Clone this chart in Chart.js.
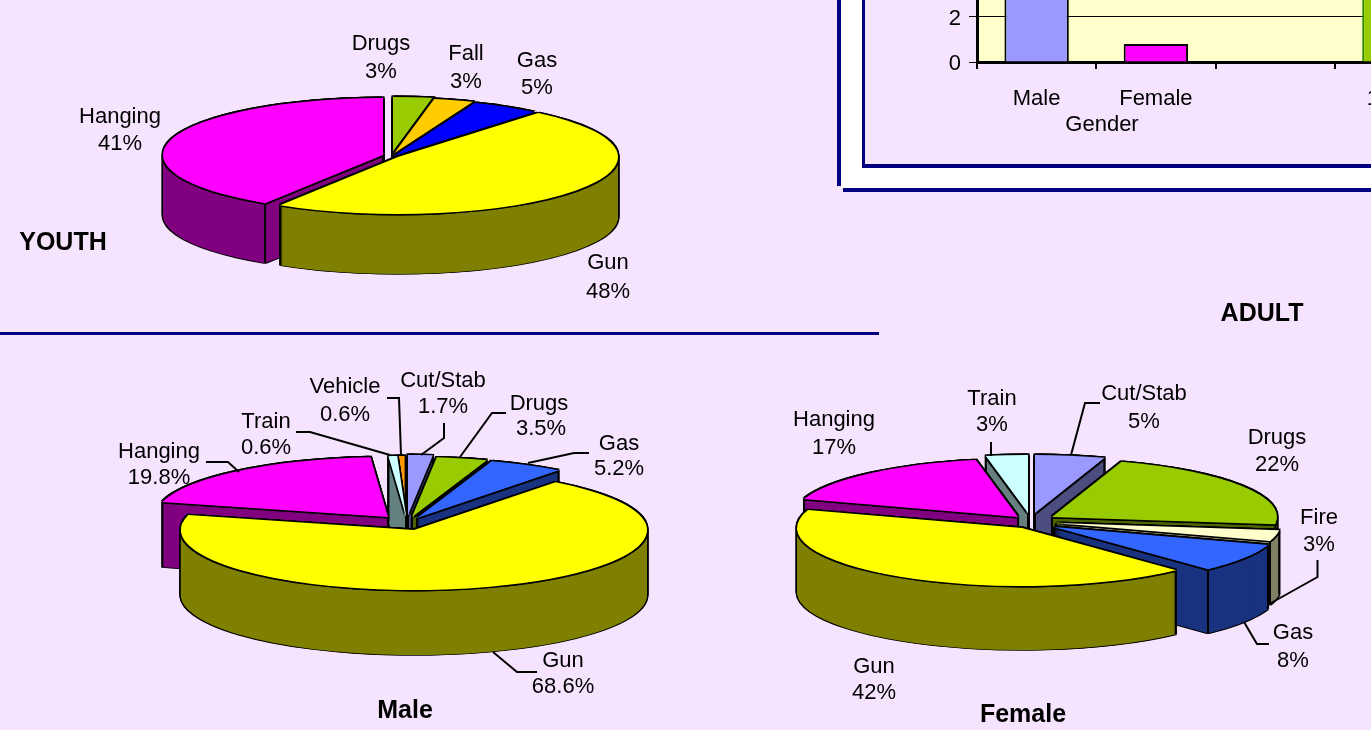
<!DOCTYPE html>
<html><head><meta charset="utf-8">
<style>
html,body{margin:0;padding:0;width:1371px;height:730px;overflow:hidden;background:#F6E4FE}
canvas{position:absolute;left:0;top:0}
.b{position:absolute}
</style>
<script src="https://cdn.jsdelivr.net/npm/chart.js@4"></script>
</head><body>
<div class="b" style="left:841px;top:0;width:530px;height:188px;background:#fff"></div>
<div class="b" style="left:837px;top:0;width:4px;height:186px;background:#000080"></div>
<div class="b" style="left:843px;top:188px;width:528px;height:4px;background:#000080"></div>
<div class="b" style="left:862px;top:0;width:509px;height:164px;background:#F6E4FE;border-left:3px solid #000080;border-bottom:4px solid #000080"></div>
<div class="b" style="left:0;top:332px;width:879px;height:3px;background:#000080"></div>
<canvas id="bar" width="573" height="400" style="left:881px;top:-140px"></canvas>
<canvas id="youth" width="1371" height="730"></canvas>
<canvas id="male" width="1371" height="730"></canvas>
<canvas id="female" width="1371" height="730"></canvas>
<script>
// ---------- data ----------
const youthCategories = ['Drugs','Fall','Gas','Gun','Hanging'];
const youthValues = [3,3,5,48,41];
const maleCategories = ['Cut/Stab','Drugs','Gas','Gun','Hanging','Train','Vehicle'];
const maleValues = [1.7,3.5,5.2,68.6,19.8,0.6,0.6];
const femaleCategories = ['Cut/Stab','Drugs','Fire','Gas','Gun','Hanging','Train'];
const femaleValues = [5,22,3,8,42,17,3];
const barCategories = ['Male','Female','','1       '];
const barValues = [7,0.8,null,5];
const barTicks = [0,2,4,6,8];

// ---------- styles ----------
const TOP = {'Cut/Stab':'#9999FF',Drugs:'#99CC00',Fall:'#FFCC00',Fire:'#FFFFCC',Gun:'#FFFF00',Hanging:'#FF00FF',Train:'#CCFFFF',Vehicle:'#FF9900'};
const WALL = {'Cut/Stab':'#4D4D80',Drugs:'#4D6600',Fall:'#806600',Fire:'#808066',Gun:'#808000',Hanging:'#800080',Train:'#668080',Vehicle:'#804D00'};
const FONT = '22px "Liberation Sans", Arial, sans-serif';
const BOLD = 'bold 25px "Liberation Sans", Arial, sans-serif';
const EDGE = 1.4;

// ---------- layout ----------
const youthLayout = {R:220,ry:57,depth:60,gas:['#0000FF','#000080'],
 apex:{Drugs:[393,154],Fall:[393,155],Gas:[394,156],Gun:[398,157],Hanging:[383,155]},
 label:{Drugs:[381,43,381,71],Fall:[466,53,466,81],Gas:[537,60,537,87],Gun:[608,262,608,291],Hanging:[120,116,120,143]},
 leaders:[], titles:[['YOUTH',63,242]]};
const maleLayout = {R:233,ry:60,depth:65,gas:['#3366FF','#1A3380'],
 apex:{'Cut/Stab':[408,515],Drugs:[412,517],Gas:[417,518],Gun:[414,530],Hanging:[388,517],Train:[406,516],Vehicle:[404.6,516]},
 label:{'Cut/Stab':[443,380,443,406],Drugs:[539,403,541,428],Gas:[619,443,619,468],Gun:[563,660,563,686],Hanging:[159,451,159,477],Train:[266,421,266,447],Vehicle:[345,386,345,414]},
 leaders:[[[206,462],[228,462],[239,472]],[[296,432],[310,432],[390,455]],[[387,398],[399,398],[401,455]],[[444,423],[444,438],[421,455]],[[506,413],[492,413],[460,457]],[[589,453],[574,453],[528,463]],[[493,652],[517,672],[537,672]]],
 titles:[['Male',405,710]]};
const femaleLayout = {R:225,ry:58,depth:64,gas:['#3366FF','#1A3380'],
 apex:{'Cut/Stab':[1035,513],Drugs:[1052,517],Fire:[1056,523],Gas:[1054,527],Gun:[1022,528],Hanging:[1018,517],Train:[1028,513]},
 label:{'Cut/Stab':[1144,393,1144,421],Drugs:[1277,437,1277,464],Fire:[1319,517,1319,544],Gas:[1293,632,1293,660],Gun:[874,666,874,692],Hanging:[834,419,834,447],Train:[992,398,992,424]},
 leaders:[[[1100,403],[1085,403],[1071,455]],[[991,442],[991,456]],[[1317.5,560],[1317.5,577],[1267.5,605]],[[1244,622],[1257,644],[1269,644]]],
 titles:[['Female',1023,714],['ADULT',1262,313]]};

function pie(id,cats,vals,L){
  const topOf=c=>c==='Gas'?L.gas[0]:TOP[c], wallOf=c=>c==='Gas'?L.gas[1]:WALL[c];
  const s=L.ry/L.R;
  const plugin={id:'pie3d',
    beforeDatasetsDraw(chart){
      const ctx=chart.ctx, arcs=chart.getDatasetMeta(0).data;
      const paint=(arc,a,color,dx,dy)=>{
        const orig=arc.options;
        arc.options=Object.assign({},orig,{backgroundColor:color,borderWidth:0});
        ctx.save();
        ctx.translate(a[0]+dx,a[1]+dy);ctx.scale(1,s);ctx.translate(-arc.x,-arc.y);
        arc.draw(ctx);
        ctx.restore();
        arc.options=orig;
      };
      // does moving a little straight down from (x,y) stay on this slice's own top face?
      const downIsInside=(arc,a,x,y)=>{
        const fx=x-a[0], fy=(y+3-a[1])/s, r=Math.hypot(fx,fy);
        if(r>=L.R) return false;
        let t=Math.atan2(fy,fx);
        while(t<arc.startAngle) t+=Math.PI*2;
        return t<=arc.endAngle;
      };
      const order=arcs.map((arc,i)=>i).sort((p,q)=>
        Math.sin((arcs[p].startAngle+arcs[p].endAngle)/2)-Math.sin((arcs[q].startAngle+arcs[q].endAngle)/2));
      order.forEach(i=>{
        const arc=arcs[i],c=cats[i],a=L.apex[c];
        for(let d=-EDGE;d<=L.depth+EDGE;d++){paint(arc,a,'#000',-EDGE,d);paint(arc,a,'#000',EDGE,d);}
        for(let d=L.depth;d>0;d--)paint(arc,a,wallOf(c),0,d);
        ctx.save();ctx.strokeStyle='#000';ctx.lineWidth=2;ctx.beginPath();
        const corners=[[a[0],a[1]]];
        [arc.startAngle,arc.endAngle].forEach(t=>corners.push([a[0]+L.R*Math.cos(t),a[1]+L.ry*Math.sin(t)]));
        corners.forEach(q=>{
          if(downIsInside(arc,a,q[0],q[1])) return;
          ctx.moveTo(q[0],q[1]);ctx.lineTo(q[0],q[1]+L.depth);
        });
        ctx.stroke();ctx.restore();
        for(const dx of [-EDGE,EDGE])for(const dy of [-EDGE,EDGE])paint(arc,a,'#000',dx,dy);
        paint(arc,a,topOf(c),0,0);
      });
      return false;
    },
    afterDraw(chart){
      const ctx=chart.ctx;
      ctx.save();
      ctx.strokeStyle='#000';ctx.lineWidth=2;
      L.leaders.forEach(p=>{ctx.beginPath();p.forEach((q,i)=>i?ctx.lineTo(q[0],q[1]):ctx.moveTo(q[0],q[1]));ctx.stroke();});
      ctx.fillStyle='#000';ctx.textAlign='center';ctx.textBaseline='middle';ctx.font=FONT;
      cats.forEach((c,i)=>{const p=L.label[c];
        ctx.fillText(c,p[0],p[1]+1);ctx.fillText(vals[i]+'%',p[2],p[3]+1);});
      ctx.font=BOLD;
      L.titles.forEach(t=>ctx.fillText(t[0],t[1],t[2]+1));
      ctx.restore();
    }};
  new Chart(document.getElementById(id),{type:'pie',
    data:{labels:cats,datasets:[{data:vals,radius:L.R,backgroundColor:cats.map(topOf),borderWidth:0}]},
    options:{responsive:false,animation:false,events:[],plugins:{legend:{display:false},tooltip:{enabled:false}}},
    plugins:[plugin]});
}
pie('youth',youthCategories,youthValues,youthLayout);
pie('male',maleCategories,maleValues,maleLayout);
pie('female',femaleCategories,femaleValues,femaleLayout);

new Chart(document.getElementById('bar'),{type:'bar',
  data:{labels:barCategories,datasets:[{data:barValues,
    backgroundColor:['#9999FF','#FF00FF','#000000','#99CC00'],
    borderColor:['#000','#000','#000','#2E8B00'],borderWidth:2}]},
  options:{responsive:false,animation:false,events:[],
    layout:{padding:{top:18,left:0,right:0,bottom:0}},
    plugins:{legend:{display:false},tooltip:{enabled:false}},
    datasets:{bar:{barPercentage:0.54,categoryPercentage:1}},
    scales:{
      x:{grid:{drawOnChartArea:false,color:'#000',lineWidth:2,tickLength:7,offset:true},
         border:{color:'#000',width:3},
         ticks:{color:'#000',font:{family:'"Liberation Sans"',size:22},padding:17,maxRotation:0,autoSkip:false},
         afterFit(a){a.height=198;}},
      y:{min:0,max:8,afterBuildTicks(a){a.ticks=barTicks.map(v=>({value:v}));},
         grid:{color:'#000',lineWidth:1,tickLength:8},
         border:{color:'#000',width:3},
         ticks:{color:'#000',font:{family:'"Liberation Sans"',size:22},padding:8,labelOffset:2},
         afterFit(a){a.width=96;}}
    }},
  plugins:[{id:'plotbg',
    beforeDraw(c){const a=c.chartArea,x=c.ctx;x.save();x.fillStyle='#FFFFCC';x.fillRect(a.left,a.top,a.right-a.left,a.bottom-a.top);x.restore();},
    afterDraw(c){const x=c.ctx;x.save();x.fillStyle='#000';x.font=FONT;x.textAlign='center';x.textBaseline='middle';
      x.fillText('Gender',1102-881,125+140);x.restore();}}]
});
</script>
</body></html>
